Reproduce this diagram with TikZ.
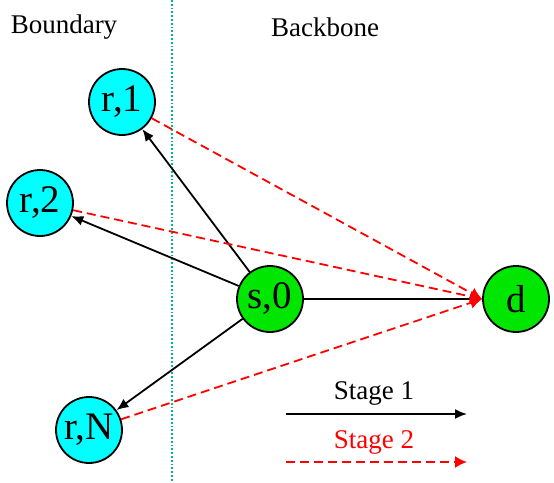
\documentclass[tikz,border=0pt]{standalone}
\usepackage{fontspec}
\setmainfont{Liberation Serif}
\usepackage{xcolor}
\usetikzlibrary{arrows.meta}
\definecolor{aqua}{RGB}{0,255,255}
\definecolor{lime}{RGB}{0,230,0}
\definecolor{divider}{RGB}{0,185,140}
\tikzset{
    relay-node/.style = {draw=black, fill=aqua, circle, line width=1.8pt, minimum size=66pt, inner sep=0pt, font=\fontsize{39}{42}\selectfont},
    end-node/.style = {relay-node, fill=lime},
    stage-one/.style = {draw=black, line width=1.8pt, -{Latex[length=12pt,width=10pt]}},
    stage-two/.style = {draw=red, line width=1.8pt, dash pattern=on 9pt off 5pt, -{Latex[length=12pt,width=12pt]}},
    region-label/.style = {font=\fontsize{27}{30}\selectfont},
}

\begin{document}
\begin{tikzpicture}[x=1pt,y=-1pt]
\useasboundingbox (0,0) rectangle (554,482);
\draw[divider, dotted, line width=1.8pt] (172,0) -- (172,482);
\node[region-label] (boundary) at (64,27) {Boundary};
\node[region-label] (backbone) at (325,27) {Backbone};
% nodes
\node[relay-node] (r1) at (122,102) {r,1};
\node[relay-node] (r2) at (40,203) {r,2};
\node[relay-node] (rN) at (89,430) {r,N};
\node[end-node] (s0) at (270,299) {s,0};
\node[end-node] (d) at (516,299) {d};
% stage 1
\draw[stage-one] (s0) -- (r1);
\draw[stage-one] (s0) -- (r2);
\draw[stage-one] (s0) -- (rN);
\draw[stage-one] (s0) -- (d);
% stage 2
\draw[stage-two] (r1) -- (d.west);
\draw[stage-two] (r2) -- (d.west);
\draw[stage-two] (rN) -- (d.west);
% legend
\node[region-label] (one-label) at (374,393) {Stage 1};
\node[region-label, text=red] (two-label) at (374,442) {Stage 2};
\coordinate (one-start) at (286,414);
\coordinate (one-end) at (467,414);
\coordinate (two-start) at (286,462);
\coordinate (two-end) at (467,462);
\draw[stage-one] (one-start) -- (one-end);
\draw[stage-two] (two-start) -- (two-end);
\end{tikzpicture}
\end{document}
